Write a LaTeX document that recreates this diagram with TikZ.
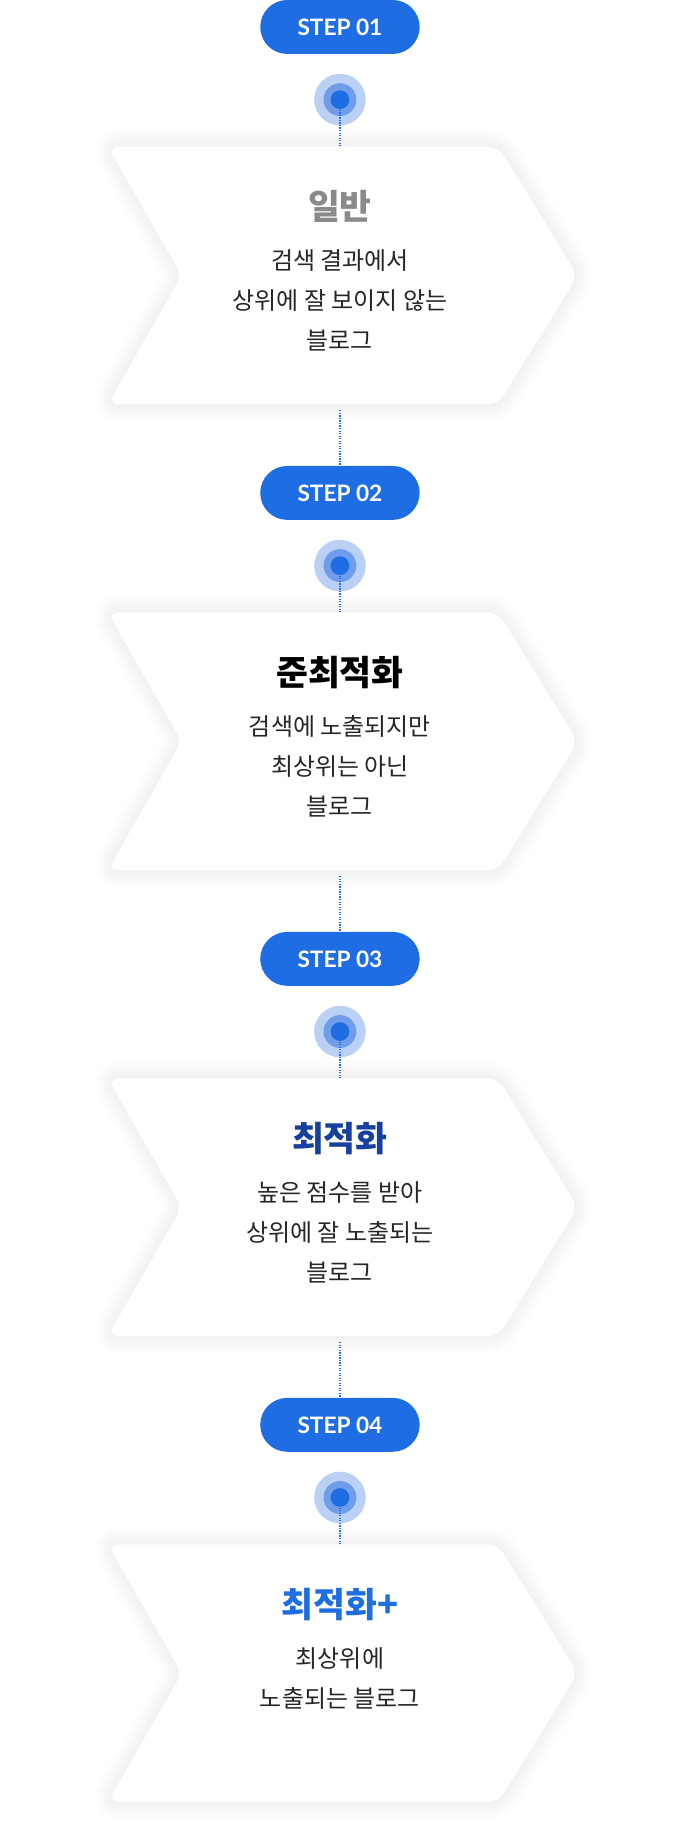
\documentclass[tikz,border=0pt]{standalone}
\usepackage{fontspec}
\setmainfont{Noto Sans CJK KR}
\newfontfamily\latofont{Lato}
\usetikzlibrary{shadows.blur}
\definecolor{stepblue}{HTML}{1F6DE3}
\definecolor{ringout}{HTML}{BBD0F5}
\definecolor{ringmid}{HTML}{6F9DEA}
\definecolor{titlegray}{HTML}{8A8A8A}
\definecolor{titlenavy}{HTML}{163F9E}
\definecolor{titleblue}{HTML}{1F6DE3}
\newlength{\du}
\setlength{\du}{0.8794pt}
\tikzset{
  pill/.style={fill=stepblue, rounded corners=23\du, minimum width=136\du,
    minimum height=46\du, text=white, font=\latofont\bfseries\fontsize{17}{17}\selectfont},
  link/.style={stepblue, densely dotted, line width=0.9pt},
  card/.style={fill=white, rounded corners=8pt, blur shadow={shadow blur steps=12,
    shadow xshift=0pt, shadow yshift=0pt, shadow blur radius=14pt, shadow opacity=12}},
  body/.style={align=center, font=\fontsize{18}{30}\selectfont, text=black!85}
}
\begin{document}
\begin{tikzpicture}[x=0.8794pt, y=-0.8794pt]
  \useasboundingbox (0,0) rectangle (580,1568);
  \foreach \i/\ttl/\col/\txt [count=\k from 0] in {
      01/일반/titlegray/{검색 결과에서\\상위에 잘 보이지 않는\\블로그},
      02/준최적화/black/{검색에 노출되지만\\최상위는 아닌\\블로그},
      03/최적화/titlenavy/{높은 점수를 받아\\상위에 잘 노출되는\\블로그},
      04/최적화+/titleblue/{최상위에\\노출되는 블로그}} {
    \pgfmathsetmacro{\oy}{397.5*\k}
    % card
    \path[card] (92,125+\oy) -- (425,125+\oy) -- (493,235+\oy) -- (425,345+\oy)
      -- (92,345+\oy) -- (155,235+\oy) -- cycle;
    \node (box\i) at (290,235+\oy) {};
    \coordinate (top\i) at (290,125+\oy);
    \coordinate (bot\i) at (290,350+\oy);
    % step badge
    \node[pill] (pill\i) at (290,23+\oy) {STEP \i};
    % marker
    \fill[ringout] (290,85+\oy) circle (22);
    \fill[ringmid] (290,85+\oy) circle (14);
    \fill[stepblue] (290,85+\oy) circle (8);
    \node (dot\i) at (290,85+\oy) {};
    \draw[link] (dot\i.center) -- (top\i);
    % text
    \node[body, text=\col, font=\bfseries\fontsize{26}{30}\selectfont] (title\i)
      at (290,176+\oy) {\ttl};
    \node[body, anchor=north] (text\i) at (290,209+\oy) {\txt};
  }
  \draw[link] (bot01) -- (pill02);
  \draw[link] (bot02) -- (pill03);
  \draw[link] (bot03) -- (pill04);
\end{tikzpicture}
\end{document}
